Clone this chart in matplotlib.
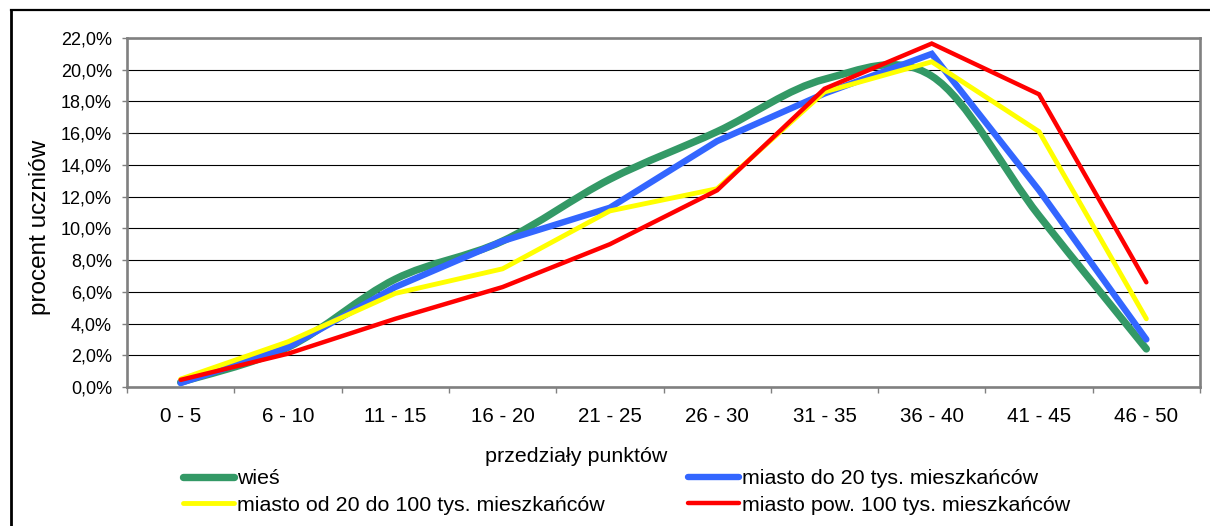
import matplotlib
matplotlib.use("Agg")
import matplotlib.pyplot as plt
import numpy as np
from matplotlib.path import Path
from matplotlib.patches import PathPatch
from matplotlib.lines import Line2D

plt.rcParams['font.family'] = ['Liberation Sans', 'DejaVu Sans']

categories = ['0 - 5', '6 - 10', '11 - 15', '16 - 20', '21 - 25',
              '26 - 30', '31 - 35', '36 - 40', '41 - 45', '46 - 50']

# percent of students per point range
wies = [0.3, 2.5, 6.8, 9.2, 13.1, 16.1, 19.4, 19.6, 10.8, 2.4]
miasto_do_20 = [0.25, 2.5, 6.3, 9.2, 11.3, 15.5, 18.5, 21.0, 12.4, 3.0]
miasto_20_100 = [0.5, 2.85, 5.9, 7.45, 11.1, 12.5, 18.6, 20.5, 16.1, 4.3]
miasto_pow_100 = [0.45, 2.1, 4.3, 6.3, 9.0, 12.4, 18.8, 21.65, 18.45, 6.6]

series_names = ['wieś', 'miasto do 20 tys. mieszkańców',
                'miasto od 20 do 100 tys. mieszkańców', 'miasto pow. 100 tys. mieszkańców']
y_ticks = np.arange(0, 23, 2)


def smooth_path(xs, ys):
    # Excel-like smoothed line: cubic bezier through every point
    pts = np.column_stack([xs, ys]).astype(float)
    n = len(pts)
    verts = [pts[0]]
    codes = [Path.MOVETO]
    for i in range(n - 1):
        p0 = pts[max(i - 1, 0)]
        p1 = pts[i]
        p2 = pts[i + 1]
        p3 = pts[min(i + 2, n - 1)]
        c1 = p1 + (p2 - p0) / 6.0
        c2 = p2 - (p3 - p1) / 6.0
        verts += [c1, c2, p2]
        codes += [Path.CURVE4] * 3
    return Path(verts, codes)


W, H = 1210, 526
fig = plt.figure(figsize=(W / 100, H / 100), dpi=100)
ax = fig.add_axes((127 / W, (H - 387) / H, 1073 / W, 349 / H))

x = np.arange(len(categories))

green = '#339966'
blue = '#3366FF'
yellow = '#FFFF00'
red = '#FF0000'

lw_g, lw_b, lw_y, lw_r = 5.3, 4.6, 3.5, 3.2

ax.add_patch(PathPatch(smooth_path(x, wies), facecolor='none', edgecolor=green,
                       lw=lw_g, capstyle='round', joinstyle='round', zorder=3))
ax.plot(x, miasto_do_20, color=blue, lw=lw_b, solid_capstyle='round',
        solid_joinstyle='miter', zorder=4)
ax.plot(x, miasto_20_100, color=yellow, lw=lw_y, solid_capstyle='round',
        solid_joinstyle='miter', zorder=5)
ax.plot(x, miasto_pow_100, color=red, lw=lw_r, solid_capstyle='round',
        solid_joinstyle='miter', zorder=6)

ax.set_xlim(-0.5, len(categories) - 0.5)
ax.set_ylim(0, 22)
ax.set_yticks(y_ticks)
ax.set_yticklabels([f'{v:.1f}%'.replace('.', ',') for v in y_ticks], fontsize=13)
ax.set_xticks(x)
ax.set_xticklabels(categories, fontsize=14.8)
ax.set_xticks(np.arange(-0.5, len(categories), 1), minor=True)
ax.tick_params(axis='x', which='major', length=0, pad=14.3)
ax.tick_params(axis='x', which='minor', length=4, width=1, color='#808080')
ax.tick_params(axis='y', length=3.8, width=1, color='#808080', pad=7)
ax.grid(axis='y', color='black', lw=0.8)
ax.set_axisbelow(True)
for s in ax.spines.values():
    s.set_color('#808080')
    s.set_linewidth(1.9)

fig.text(40 / W, 1 - 227 / H, 'procent uczniów', rotation=90, ha='center',
         va='center', fontsize=17.5)
fig.text(576 / W, 1 - 456 / H, 'przedziały punktów', ha='center', va='center',
         fontsize=15.4)

handles = [Line2D([], [], color=green, lw=lw_g, solid_capstyle='round'),
           Line2D([], [], color=yellow, lw=lw_y, solid_capstyle='round'),
           Line2D([], [], color=blue, lw=lw_b, solid_capstyle='round'),
           Line2D([], [], color=red, lw=lw_r, solid_capstyle='round')]
labels = [series_names[0], series_names[2], series_names[1], series_names[3]]
fig.legend(handles, labels, ncol=2, loc='center left',
           bbox_to_anchor=(183 / W, 1 - 492 / H), frameon=False, fontsize=15.4,
           handlelength=2.4, handletextpad=0.12, columnspacing=3.9,
           labelspacing=0.36, borderaxespad=0, borderpad=0)

# figure frame, cut off on the right and bottom in the original
fig.add_artist(Line2D([11 / W, 11 / W], [0, 1 - 10 / H], color='black', lw=2,
                      transform=fig.transFigure))
fig.add_artist(Line2D([11 / W, 1], [1 - 10 / H, 1 - 10 / H], color='black', lw=1.6,
                      transform=fig.transFigure, solid_capstyle='projecting'))

fig.savefig('out.png', dpi=100)
